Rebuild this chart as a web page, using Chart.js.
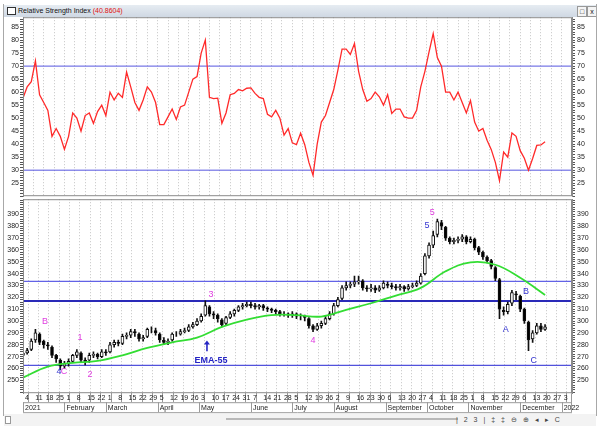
<!DOCTYPE html>
<html>
<head>
<meta charset="utf-8">
<script src="https://cdn.jsdelivr.net/npm/chart.js@4.4.0/dist/chart.umd.min.js"></script>
<style>
  body { margin: 0; width: 600px; height: 426px; background: #fff; position: relative; overflow: hidden;
         font-family: "Liberation Sans", Arial, sans-serif; }
  .edge { position: absolute; top: 4px; width: 1px; height: 412px; background: #a8a8a8; z-index: 4; }
  .titlebar { position: absolute; left: 4px; top: 5px; width: 592px; height: 12px; z-index: 3;
              background: linear-gradient(#e6ecf2, #cfd8e3); font-size: 7px; line-height: 12px; color: #111; }
  .titlebar .icon { position: absolute; left: 3px; top: 2px; width: 7px; height: 6px; border: 1px solid #333; background: #fff; }
  .titlebar .name { position: absolute; left: 14px; top: 0; }
  .titlebar .val { color: #e01010; }
  .titlebar .btn { position: absolute; top: 1px; width: 8px; height: 9px; border: 1px solid #999; background: #f4f4f4;
                   font-size: 7px; line-height: 9px; text-align: center; }
  .box { position: absolute; left: 0; width: 600px; }
  .scroll { position: absolute; left: 4px; top: 414px; width: 592px; height: 12px; background: #f3f3f3;
            font-size: 7px; line-height: 11px; color: #333; z-index: 2; }
  .scroll .knob { position: absolute; left: 1px; top: 2px; width: 4px; height: 6px; border: 1px solid #999; background: #fff; }
  .scroll .thumb { position: absolute; left: 222px; top: 4px; width: 232px; height: 2px; background: #b8b8b8; }
  .scroll .icons { position: absolute; left: 452px; top: 0; letter-spacing: 2px; color: #444; }
</style>
</head>
<body>
<div class="edge" style="left:3px"></div>
<div class="edge" style="left:596px"></div>
<div class="titlebar">
  <div class="icon"></div>
  <div class="name">Relative Strength Index <span class="val">(40.8604)</span></div>
  <div class="btn" style="left:573px">&#9633;</div>
  <div class="btn" style="left:583px">x</div>
</div>
<div class="box" id="rsiBox" style="top:10px;height:195px"><canvas id="rsiChart"></canvas></div>
<div class="box" id="priceBox" style="top:190px;height:230px"><canvas id="priceChart"></canvas></div>
<div class="scroll"><div class="knob"></div><div class="thumb"></div>
  <div class="icons">| 2 3 | &#8225; &#8225; &#8854; &#8853; &#9666; &#9656; C</div></div>
<script>
// Sampling: one bar / RSI point every 2 trading days (0.4 week), EMA every 12 trading days
const BAR_STEP = 0.4;
const EMA_STEP = 2.4;
const X_MAX = 53;

// Weekly tick labels (Mondays) and month captions under them
const tickDays = ['4','11','18','25','1','8','15','22','1','8','15','22','29','5','12','19','26',
  '3','10','17','24','31','7','14','21','28','5','12','19','26','2','9','16','23','30',
  '6','13','20','27','4','11','18','25','1','8','15','22','29','6','13','20','27','3'];
const tickMonths = {0: '2021', 4: 'February', 8: 'March', 13: 'April', 17: 'May', 22: 'June', 26: 'July',
  30: 'August', 35: 'September', 39: 'October', 43: 'November', 48: 'December', 52: '2022'};

const rsiValues = [57.7,62,64,72,59,56,53,43,46,43,
  38,43,52,50,45,51,52,48,52.5,55,
  51,60,57,59.6,58,67.7,62,56,53,57,
  62,60,56,47.5,47.5,50.5,53.5,49.5,54.3,55,
  60,65,66,75,80,58,57.5,57.7,48,52,
  59,59.5,61,60.5,61.5,61.6,59.5,58,57.5,51.5,
  50.5,53,50,43.5,46,40.5,39.8,44.2,39.8,33,
  28,40,48.5,51,56,61,68.5,76.5,76.5,74.5,
  78.7,68,61,56.5,57.5,60,58.2,55,59,51.8,
  53.5,53.5,50.5,50,50,53,62,68,75.5,82.5,
  73.3,70,60,60,57,60,56,52,56.8,48.5,
  45,46,41.5,38,33,26,37,35,44.3,43,
  37.5,34.6,30,34.5,39.5,39.7,40.9];
const rsiLevels = [70, 30];

const priceOpen = [271,273,276,284,289,283,280,278,271,267,
  262,264,266,271,273,267,267,271,272,270,
  274,274,280,282,281,287,288,291,289,285,
  287,293,292,289,284,282,284,289,289,291,
  292,295,297,300,305,312,306,305,301,298,
  303,306,309,312,313,314,313,312,313,311,
  310,309,308,306,306,305,306,304,304,302,
  296,293,296,298,302,306,313,319,328,330,
  331,333,334,328,327,328,326,328,331,330,
  329,328,329,327,329,330,332,340,355,364,
  373,383,379,370,367,368,369,371,367,369,
  362,358,354,351,345,335,309,308,315,323,
  321,310,299,285,290,296,293];
const priceClose = [273,275,283,290,282,280,279,271,268,262,
  264,266,271,274,267,266,271,272,270,274,
  273,280,282,281,287,288,291,290,285,286,
  293,293,290,284,282,283,289,289,291,292,
  295,297,300,304,313,306,305,302,297,303,
  306,309,312,313,314,313,312,313,311,310,
  309,308,306,306,305,306,304,304,303,296,
  293,296,298,302,306,313,318,328,330,331,
  333,334,328,327,328,326,328,332,330,329,
  328,329,327,329,330,332,338,355,364,372,
  384,380,370,367,368,369,371,367,369,362,
  358,354,351,346,336,310,308,314,324,322,
  310,300,284,290,296,293,295];
const priceHigh = [275,277,285,293,290,284,282,279,272,268,
  266,268,272,276,274,269,273,274,273,276,
  276,282,284,284,289,290,293,293,290,288,
  294,295,294,290,286,285,290,291,293,294,
  297,299,302,306,317,313,308,306,302,304,
  308,310,313,315,316,316,315,314,314,312,
  311,310,309,308,307,308,307,306,305,303,
  297,298,300,304,308,315,320,330,333,333,
  338,338,335,330,331,330,330,334,333,332,
  331,331,330,331,332,334,340,357,366,376,
  386,385,380,371,370,371,373,372,371,370,
  363,359,355,352,346,336,312,316,326,325,
  322,311,300,292,298,298,297];
const priceLow = [269,272,275,282,280,277,276,269,265,259,
  260,262,265,269,265,263,265,269,268,269,
  271,273,278,279,280,285,286,287,283,283,
  286,290,288,282,280,280,283,287,288,290,
  291,294,296,299,304,304,302,299,295,297,
  302,304,308,310,312,311,310,310,309,308,
  307,306,304,304,303,303,302,301,300,294,
  291,292,294,297,301,305,312,318,326,328,
  329,331,326,325,325,324,325,327,328,327,
  326,326,325,326,328,329,331,339,353,362,
  371,377,368,365,365,366,367,365,366,360,
  356,352,349,344,334,302,305,306,313,318,
  308,298,275,282,289,291,292];
const emaValues = [252.3,261.5,264.6,266.3,271,277.3,282,286,295,301.2,305,
  305,303.8,309.5,315,321.5,328,342,349.5,347.5,336.5,322];
const priceLevels = [333.5, 317, 262.5];

// Wave labels on the price panel (x in weeks, y in price)
const notes = [
  {text: 'B', x: 2.12, y: 299.6, color: '#e03ee0'},
  {text: '4', x: 3.47, y: 257.6, color: '#3434d0'},
  {text: 'C', x: 3.96, y: 257.6, color: '#e03ee0'},
  {text: '1', x: 5.5, y: 286.2, color: '#e03ee0'},
  {text: '2', x: 6.47, y: 255.0, color: '#e03ee0'},
  {text: '3', x: 18.15, y: 322.4, color: '#e03ee0'},
  {text: 'EMA-55', x: 18.15, y: 266.9, color: '#2626c4', bold: true},
  {text: '4', x: 28.0, y: 283.7, color: '#e03ee0'},
  {text: '5', x: 39.0, y: 380.4, color: '#3434d0'},
  {text: '5', x: 39.5, y: 391.4, color: '#e03ee0'},
  {text: 'A', x: 46.6, y: 292.9, color: '#3434d0'},
  {text: 'B', x: 48.55, y: 325.0, color: '#3434d0'},
  {text: 'C', x: 49.3, y: 266.9, color: '#3434d0'}
];
const arrowNote = {x: 17.76, from: 274.4, to: 283.6, color: '#2626c4'};

Chart.defaults.font.family = '"Liberation Sans", Arial, sans-serif';
Chart.defaults.font.size = 7;
Chart.defaults.color = '#222';

const frame = {
  id: 'frame',
  afterDraw(chart) {
    const a = chart.chartArea, ctx = chart.ctx;
    ctx.save();
    ctx.strokeStyle = '#8a8a8a';
    ctx.lineWidth = 1;
    ctx.strokeRect(a.left + 0.5, a.top + 0.5, a.right - a.left - 1, a.bottom - a.top - 1);
    if (chart.options.plugins.frame && chart.options.plugins.frame.rows) {
      const xs = chart.scales.x;
      ctx.strokeStyle = '#9a9a9a';
      ctx.beginPath();
      ctx.moveTo(a.left, a.bottom + 9.5); ctx.lineTo(a.right, a.bottom + 9.5);
      ctx.moveTo(a.left, a.bottom + 19.5); ctx.lineTo(a.right, a.bottom + 19.5);
      Object.keys(tickMonths).forEach(i => {
        const px = Math.round(xs.getPixelForValue(Number(i))) + 0.5;
        ctx.moveTo(px, a.bottom + 9); ctx.lineTo(px, a.bottom + 19);
      });
      ctx.moveTo(a.right - 0.5, a.bottom); ctx.lineTo(a.right - 0.5, a.bottom + 19);
      ctx.stroke();
    }
    ctx.restore();
  }
};

const waveLabels = {
  id: 'waveLabels',
  afterDatasetsDraw(chart) {
    const xs = chart.scales.x, ys = chart.scales.y, ctx = chart.ctx;
    ctx.save();
    ctx.textAlign = 'center';
    ctx.textBaseline = 'middle';
    notes.forEach(n => {
      ctx.font = (n.bold ? 'bold ' : '') + '9px "Liberation Sans", Arial, sans-serif';
      ctx.fillStyle = n.color;
      ctx.fillText(n.text, xs.getPixelForValue(n.x), ys.getPixelForValue(n.y));
    });
    const ax = xs.getPixelForValue(arrowNote.x);
    const y0 = ys.getPixelForValue(arrowNote.from), y1 = ys.getPixelForValue(arrowNote.to);
    ctx.strokeStyle = arrowNote.color; ctx.fillStyle = arrowNote.color; ctx.lineWidth = 1.6;
    ctx.beginPath(); ctx.moveTo(ax, y0); ctx.lineTo(ax, y1 + 3); ctx.stroke();
    ctx.beginPath(); ctx.moveTo(ax, y1); ctx.lineTo(ax - 3, y1 + 4); ctx.lineTo(ax + 3, y1 + 4); ctx.closePath(); ctx.fill();
    ctx.restore();
  }
};

function yAxis(pos, min, max, step, lo, hi, major) {
  return {
    type: 'linear', position: pos, min: min, max: max,
    afterFit: s => { s.width = pos === 'left' ? 23 : 28; },
    grid: { drawOnChartArea: false, tickLength: 3, color: '#555' },
    border: { display: true, color: '#8a8a8a' },
    ticks: {
      stepSize: step, includeBounds: false, autoSkip: false, padding: pos === 'left' ? 1 : 2,
      crossAlign: pos === 'left' ? 'near' : 'center',
      callback: v => (Math.round(v) % major === 0 && v >= lo && v <= hi) ? String(Math.round(v)) : ''
    }
  };
}

function levelSets(levels, styles) {
  return levels.map((l, i) => ({
    type: 'line', data: [{x: 0, y: l}, {x: X_MAX, y: l}],
    borderColor: styles[i].color, borderWidth: styles[i].width, pointRadius: 0
  }));
}

// RSI panel
const rsiChart = new Chart(document.getElementById('rsiChart'), {
  type: 'line',
  data: {
    datasets: [
      { data: rsiValues.map((v, i) => ({x: i * BAR_STEP, y: v})), borderColor: '#ff2a2a', borderWidth: 1.3,
        pointRadius: 0, tension: 0 },
      ...levelSets(rsiLevels, [{color: '#5656e0', width: 1}, {color: '#5656e0', width: 1}])
    ]
  },
  options: {
    responsive: true, maintainAspectRatio: false, animation: false,
    layout: { padding: 0 },
    plugins: { legend: { display: false }, tooltip: { enabled: false } },
    scales: {
      x: { type: 'linear', min: 0, max: X_MAX, afterFit: s => { s.height = 0; },
           ticks: { display: false, stepSize: 1 },
           grid: { drawTicks: false, color: '#c4c4c4' }, border: { display: false, dash: [1, 2] } },
      y: yAxis('left', 20, 88.8, 1, 25, 85, 5),
      y2: yAxis('right', 20, 88.8, 1, 25, 85, 5)
    }
  },
  plugins: [frame]
});

// Price panel
const bodyColors = priceOpen.map((o, i) => priceClose[i] >= o ? '#ffffff' : '#000000');
const priceChart = new Chart(document.getElementById('priceChart'), {
  type: 'line',
  data: {
    datasets: [
      { type: 'line', data: emaValues.map((v, i) => ({x: i * EMA_STEP, y: v})), borderColor: '#33dd33',
        borderWidth: 1.8, pointRadius: 0, tension: 0.4 },
      { type: 'bar', data: priceOpen.map((o, i) => ({x: i * BAR_STEP, y: [o, priceClose[i]]})),
        backgroundColor: bodyColors, borderColor: '#111', borderWidth: 1, borderSkipped: false,
        barThickness: 3, grouped: false },
      { type: 'bar', data: priceLow.map((l, i) => ({x: i * BAR_STEP, y: [l, priceHigh[i]]})),
        backgroundColor: '#111', barThickness: 1, grouped: false },
      ...levelSets(priceLevels, [{color: '#6262e6', width: 1.2}, {color: '#2a2ab8', width: 2}, {color: '#5252dc', width: 1.2}])
    ]
  },
  options: {
    responsive: true, maintainAspectRatio: false, animation: false,
    layout: { padding: 0 },
    plugins: { legend: { display: false }, tooltip: { enabled: false }, frame: { rows: true } },
    scales: {
      x: { type: 'linear', min: 0, max: X_MAX, offset: false,
           afterFit: s => { s.height = 22; },
           grid: { color: '#c4c4c4', tickLength: 9, tickColor: '#9a9a9a', tickBorderDash: [] },
           border: { display: false, dash: [1, 2] },
           ticks: { stepSize: 1, autoSkip: false, maxRotation: 0, align: 'start', labelOffset: 2, padding: -9,
                    font: { size: 7, lineHeight: 1.4 },
                    callback: v => [tickDays[v] || '', tickMonths[v] || ''] } },
      y: yAxis('left', 239.1, 402.8, 2, 250, 390, 10),
      y2: yAxis('right', 239.1, 402.8, 2, 250, 390, 10)
    }
  },
  plugins: [frame, waveLabels]
});

// Place each plot area at the pixel rows used by the reference
function pinArea(chart, box, top, bottom) {
  const a = chart.chartArea;
  const extra = chart.height - (a.bottom - a.top);
  box.style.top = (top - a.top) + 'px';
  box.style.height = (bottom - top + extra) + 'px';
  chart.resize();
}
pinArea(rsiChart, document.getElementById('rsiBox'), 17, 196);
pinArea(priceChart, document.getElementById('priceBox'), 199, 393);
</script>
</body>
</html>
